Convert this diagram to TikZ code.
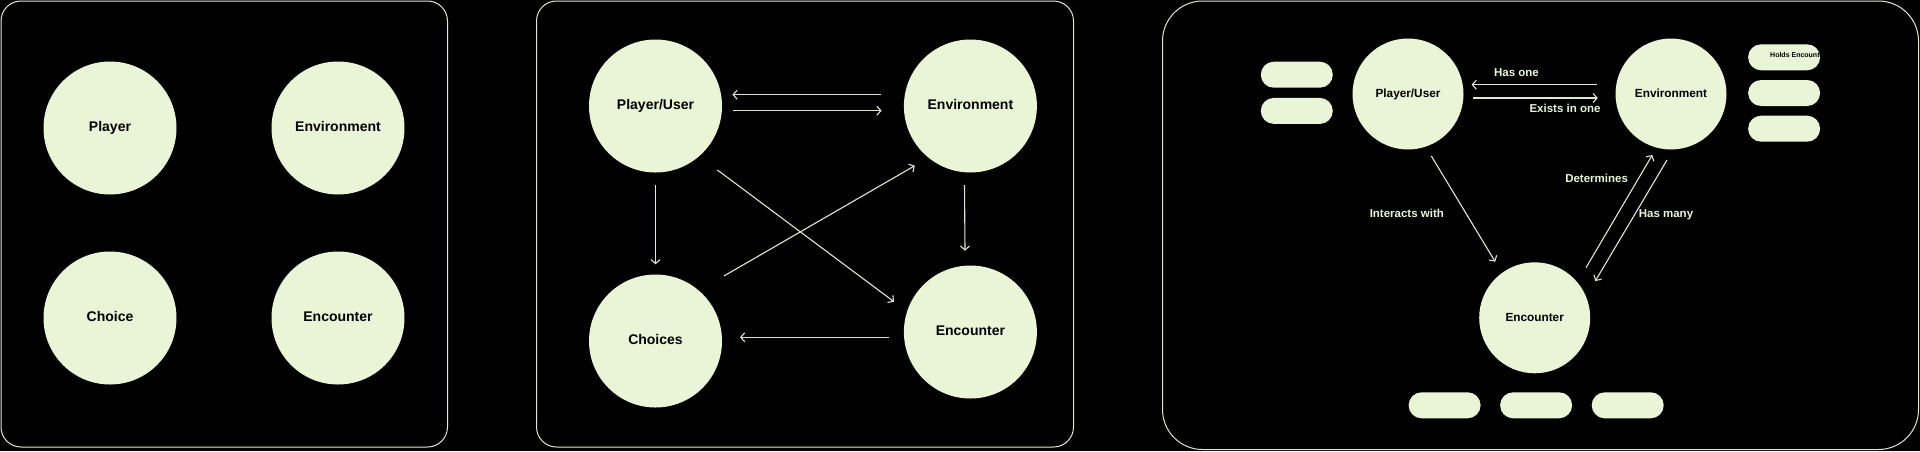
\documentclass[tikz,border=0pt]{standalone}
\usepackage{fontspec}
\setmainfont{Liberation Sans}
\usetikzlibrary{arrows.meta,calc}
\definecolor{cfill}{HTML}{EAF5D7}
\definecolor{edge}{HTML}{E2E5CF}
\begin{document}
\begin{tikzpicture}[x=1pt,y=-1pt,
  panel/.style={draw=edge,line width=1pt},
  bigc/.style={circle,fill=cfill,inner sep=0pt,minimum size=133pt,font=\bfseries\fontsize{14}{16}\selectfont,text=black,text height=0.72em,text depth=0pt},
  smallc/.style={circle,fill=cfill,inner sep=0pt,minimum size=111pt,font=\bfseries\fontsize{11.8}{14}\selectfont,text=black,text height=0.72em,text depth=0pt},
  pill/.style={rectangle,rounded corners=13pt,fill=cfill,minimum width=72pt,minimum height=26pt,inner sep=0pt},
  conn/.style={draw=edge,line width=1.1pt,-{Straight Barb[length=4pt,width=9pt]}},
  lbl/.style={text=cfill,font=\bfseries\fontsize{11.5}{13}\selectfont,inner sep=0pt,text height=0.72em,text depth=0pt}]
\fill[black] (0,0) rectangle (1920,451);
\useasboundingbox (0,0) rectangle (1920,451);
% panels
\draw[panel,rounded corners=20pt] (1,1) rectangle (447.5,447);
\draw[panel,rounded corners=20pt] (536.5,1) rectangle (1073.5,447);
\draw[panel,rounded corners=40pt] (1162.5,1) rectangle (1918.5,449.5);
% panel 1
\node[bigc] (a1) at (110,128) {Player};
\node[bigc] (a2) at (338,128) {Environment};
\node[bigc] (a3) at (110,318) {Choice};
\node[bigc] (a4) at (338,318) {Encounter};
% panel 2
\node[bigc] (bP) at (655.5,106) {Player/User};
\node[bigc] (bE) at (970.4,106) {Environment};
\node[bigc] (bC) at (655.5,341) {Choices};
\node[bigc] (bN) at (970.4,332) {Encounter};
\draw[conn] ($(bE)+(-89.4,-11.3)$) -- ($(bP)+(76.9,-11.3)$);
\draw[conn] ($(bP)+(77.5,4.7)$) -- ($(bE)+(-88.8,4.7)$);
\draw[conn] ($(bP)+(0,79)$) -- ($(bC)+(0,-76.7)$);
\draw[conn] ($(bE)+(-5.9,79)$) -- ($(bN)+(-5.4,-81.3)$);
\draw[conn] ($(bP)+(61.9,64)$) -- ($(bN)+(-76.4,-30.3)$);
\draw[conn] ($(bC)+(68.4,-65)$) -- ($(bE)+(-55.6,59.7)$);
\draw[conn] ($(bN)+(-81.6,5.3)$) -- ($(bC)+(84.5,-3.7)$);
% panel 3
\node[smallc] (cP) at (1408,94) {Player/User};
\node[smallc] (cE) at (1671,94) {Environment};
\node[smallc] (cN) at (1534.7,317.8) {Encounter};
\node[pill] (l1) at (1296.8,74.7) {};
\node[pill] (l2) at (1296.8,110.9) {};
\node[pill] (r1) at (1784.1,57.3) {};
\node[pill] (r2) at (1784.1,93) {};
\node[pill] (r3) at (1784.1,128.7) {};
\node[pill] (d1) at (1444.6,405.3) {};
\node[pill] (d2) at (1536.1,405.3) {};
\node[pill] (d3) at (1627.7,405.3) {};
\begin{scope}
\clip[rounded corners=13pt] (r1.south west) rectangle (r1.north east);
\node[anchor=west,inner sep=0pt,font=\bfseries\fontsize{7}{8}\selectfont,text height=0.72em,text depth=0pt] (r1t) at ($(r1.center)+(-14.1,-3.3)$) {Holds Encounters};
\end{scope}
\draw[conn] ($(cE)+(-74.2,-9.3)$) -- ($(cP)+(63.6,-9.3)$);
\draw[conn] ($(cP)+(64.6,4)$) -- ($(cE)+(-73.2,4)$);
\draw[conn] ($(cP)+(23.3,62)$) -- ($(cN)+(-39.5,-56.1)$);
\draw[conn] ($(cN)+(51.3,-50.1)$) -- ($(cE)+(-18.7,61)$);
\draw[conn] ($(cE)+(-4,66)$) -- ($(cN)+(60.6,-36.8)$);
\node[lbl] (t1) at (1516.5,73.3) {Has one};
\node[lbl] (t2) at (1565,109.3) {Exists in one};
\node[lbl] (t3) at (1406.8,214) {Interacts with};
\node[lbl] (t4) at (1596.6,179) {Determines};
\node[lbl] (t5) at (1666,214) {Has many};
\end{tikzpicture}
\end{document}
